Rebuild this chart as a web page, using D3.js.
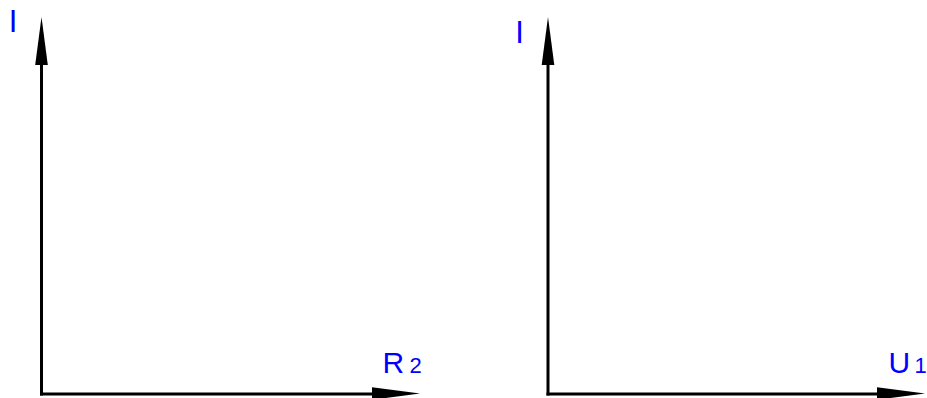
<!DOCTYPE html>
<html>
<head>
<meta charset="utf-8">
<script src="https://cdn.jsdelivr.net/npm/d3@7"></script>
<style>
  html, body { margin: 0; padding: 0; background: #fff; }
  svg { display: block; }
  text { font-family: "Liberation Sans", Arial, sans-serif; fill: #0000ff; }
</style>
</head>
<body>
<svg id="chart"></svg>
<script>
const width = 927;
const height = 398;

// two empty graphs: I over R2, I over U1
const panelNames = ["I(R2)", "I(U1)"];
const yLabels = ["I", "I"];
const xLabels = ["R", "U"];
const xSubs = ["2", "1"];
const domain = [0, 1];

// pixel frames of each panel
const frames = [
  { x0: 41.5, x1: 420, y0: 394, y1: 17, iy: 32, ix: 8.8, lx: 382.6, sdx: 5.2 },
  { x0: 548, x1: 925, y0: 394, y1: 17, iy: 43, ix: 515.3, lx: 888.6, sdx: 4.2 }
];

const svg = d3.select("#chart").attr("width", width).attr("height", height);

panelNames.forEach((name, i) => {
  const f = frames[i];
  const x = d3.scaleLinear().domain(domain).range([f.x0, f.x1]);
  const y = d3.scaleLinear().domain(domain).range([f.y0, f.y1]);
  const g = svg.append("g").attr("class", "panel").attr("data-name", name);

  const headLen = 48;
  const headHalf = 6.3;

  // vertical axis line + arrow
  g.append("line")
    .attr("x1", x(0)).attr("y1", y(0) + 1.5)
    .attr("x2", x(0)).attr("y2", y(1) + headLen - 2)
    .attr("stroke", "#000").attr("stroke-width", 3);
  g.append("path")
    .attr("d", `M${x(0)},${y(1)} L${x(0) - headHalf},${y(1) + headLen} L${x(0) + headHalf},${y(1) + headLen} Z`)
    .attr("fill", "#000");

  // horizontal axis line + arrow
  g.append("line")
    .attr("x1", x(0) - 1.5).attr("y1", y(0))
    .attr("x2", x(1) - headLen + 2).attr("y2", y(0))
    .attr("stroke", "#000").attr("stroke-width", 3);
  g.append("path")
    .attr("d", `M${x(1)},${y(0) - 0.5} L${x(1) - headLen},${y(0) - 0.5 - headHalf} L${x(1) - headLen},${y(0) - 0.5 + headHalf} Z`)
    .attr("fill", "#000");

  // labels
  g.append("text")
    .attr("x", f.ix).attr("y", f.iy)
    .attr("font-size", 31)
    .text(yLabels[i]);

  const t = g.append("text")
    .attr("x", f.lx).attr("y", 372.5)
    .attr("font-size", 30);
  t.append("tspan").text(xLabels[i]);
  t.append("tspan").attr("dx", f.sdx).attr("font-size", 22).text(xSubs[i]);
});
</script>
</body>
</html>
